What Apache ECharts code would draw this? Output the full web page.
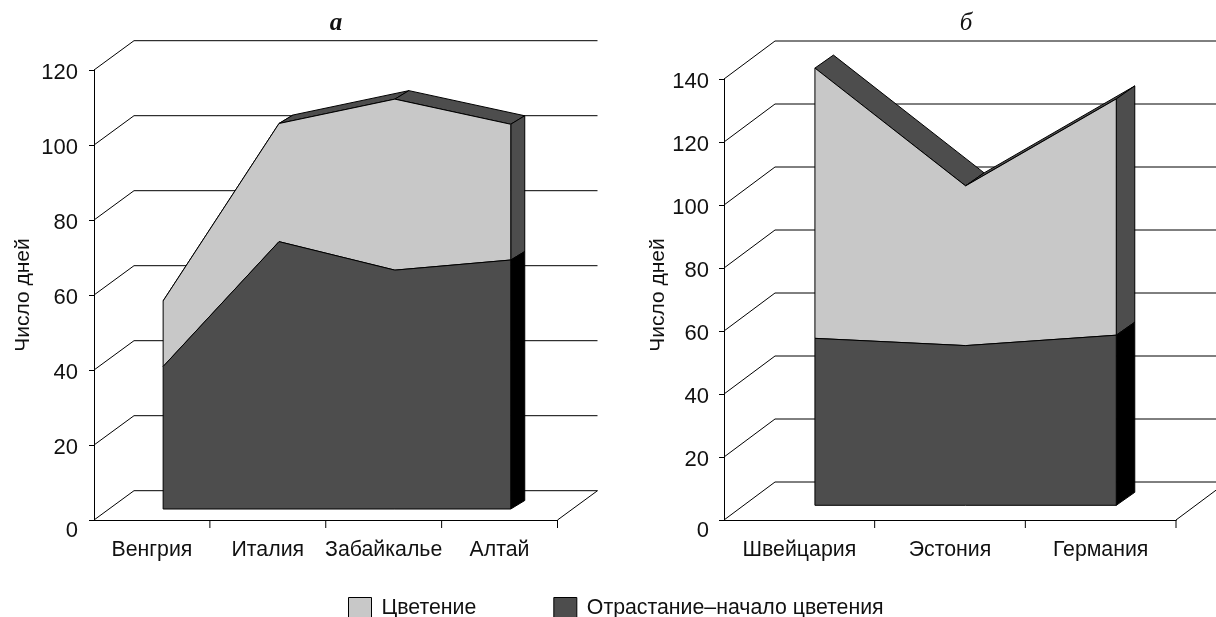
<!DOCTYPE html>
<html>
<head>
<meta charset="utf-8">
<style>html,body{margin:0;padding:0;background:#fff;overflow:hidden}#chart{width:1216px;height:617px}</style>
<script src="https://cdn.jsdelivr.net/npm/echarts@6/dist/echarts.min.js"></script>
</head>
<body>
<div id="chart"></div>
<script>
const categoriesA = ['Венгрия', 'Италия', 'Забайкалье', 'Алтай'];
const growthA = [38, 71.3, 63.7, 66.4];
const bloomA = [17.5, 31.5, 45.6, 36.2];
const ticksA = [0, 20, 40, 60, 80, 100, 120];

const categoriesB = ['Швейцария', 'Эстония', 'Германия'];
const growthB = [53, 50.7, 54];
const bloomB = [85.8, 50.7, 75];
const ticksB = [0, 20, 40, 60, 80, 100, 120, 140];

const BLOOM = 'Цветение';
const GROWTH = 'Отрастание–начало цветения';
const LIGHT = '#c8c8c8';
const DARK = '#4d4d4d';
const LINE = '#000';
const TEXT = '#111';
const FONT = '"Liberation Sans", Arial, sans-serif';

// wall: shift of the back wall, front: shift of the area face, depth: thickness of the area
const panels = [
  { wall: [40, -29.3], front: [11.2, -11], depth: [14, -8.5] },
  { wall: [51, -38], front: [15.6, -14.7], depth: [18.5, -13] },
];

const poly = (points, fill) => ({
  type: 'polygon',
  shape: { points },
  style: { fill, stroke: LINE, lineWidth: 1 },
});
const line = points => ({
  type: 'polyline',
  shape: { points },
  style: { fill: null, stroke: LINE, lineWidth: 1 },
});

// back wall, side wall and floor lines
function frameSeries(idx, ticks, categories) {
  const { wall } = panels[idx];
  return {
    type: 'custom',
    name: 'frame' + idx,
    xAxisIndex: idx,
    yAxisIndex: idx,
    clip: false,
    silent: true,
    data: ticks,
    renderItem(params, api) {
      const v = ticks[params.dataIndex];
      const band = api.size([1, 0])[0];
      const [x0, y] = api.coord([0, v]);
      const left = x0 - band / 2;
      const right = left + band * categories.length;
      const children = [line([[left, y], [left + wall[0], y + wall[1]], [right + wall[0], y + wall[1]]])];
      if (v === 0) {
        children.push(line([[right, y], [right + wall[0], y + wall[1]]]));
        categories.forEach((c, i) => {
          const x = left + band * (i + 1);
          children.push(line([[x, y], [x, y + 8]]));
        });
      }
      return { type: 'group', children };
    },
  };
}

// one layer of the area: lower and upper are value lists
function areaSeries(idx, name, lower, upper, faceColor, sideColor, withTop) {
  const { front, depth } = panels[idx];
  return {
    type: 'custom',
    name,
    xAxisIndex: idx,
    yAxisIndex: idx,
    clip: false,
    silent: true,
    itemStyle: { color: faceColor, borderColor: LINE, borderWidth: 1 },
    data: upper,
    renderItem(params, api) {
      if (params.dataIndex > 0) return null;
      const f = (i, v) => {
        const p = api.coord([i, v]);
        return [p[0] + front[0], p[1] + front[1]];
      };
      const b = p => [p[0] + depth[0], p[1] + depth[1]];
      const last = upper.length - 1;
      const children = [];
      if (withTop) {
        for (let i = 0; i < last; i++) {
          const p = f(i, upper[i]);
          const q = f(i + 1, upper[i + 1]);
          children.push(poly([p, q, b(q), b(p)], DARK));
        }
      }
      const sideTop = f(last, upper[last]);
      const sideBottom = f(last, lower[last]);
      children.push(poly([sideBottom, sideTop, b(sideTop), b(sideBottom)], sideColor));
      const face = upper.map((v, i) => f(i, v));
      for (let i = last; i >= 0; i--) face.push(f(i, lower[i]));
      children.push(poly(face, faceColor));
      return { type: 'group', children };
    },
  };
}

const zerosA = growthA.map(() => 0);
const zerosB = growthB.map(() => 0);
const topA = growthA.map((v, i) => v + bloomA[i]);
const topB = growthB.map((v, i) => v + bloomB[i]);

const xAxisOf = (gridIndex, data) => ({
  type: 'category',
  gridIndex,
  data,
  boundaryGap: true,
  axisLine: { show: true, lineStyle: { color: LINE, width: 1 } },
  axisTick: { show: false },
  axisLabel: { interval: 0, color: TEXT, fontFamily: FONT, fontSize: 21.3, margin: 20 },
});
const yAxisOf = (gridIndex, max, margin, nameGap, namePadding) => ({
  type: 'value',
  gridIndex,
  min: 0,
  max,
  interval: 20,
  name: 'Число дней',
  nameLocation: 'middle',
  nameGap,
  nameTextStyle: { color: TEXT, fontFamily: FONT, fontSize: 21, padding: namePadding },
  axisLine: { show: true, lineStyle: { color: LINE, width: 1 } },
  axisTick: { show: true, length: 5, lineStyle: { color: LINE, width: 1 } },
  axisLabel: {
    color: TEXT,
    fontFamily: FONT,
    fontSize: 22,
    margin,
    verticalAlignMinLabel: 'top',
    // the numbers sit a little under their ticks, except 0 which is already pushed down
    formatter: v => (v === 0 ? '0' : `{n|${v}}`),
    rich: { n: { color: TEXT, fontFamily: FONT, fontSize: 22, padding: [5, 0, 0, 0] } },
  },
  splitLine: { show: false },
});

const chart = echarts.init(document.getElementById('chart'), null, { renderer: 'canvas' });
chart.setOption({
  animation: false,
  backgroundColor: '#fff',
  title: [
    { text: 'а', left: 331, top: 6, textAlign: 'center', textStyle: { fontFamily: '"Liberation Serif", serif', fontStyle: 'italic', fontWeight: 'bold', fontSize: 25, color: TEXT } },
    { text: 'б', left: 961, top: 6, textAlign: 'center', textStyle: { fontFamily: '"Liberation Serif", serif', fontStyle: 'italic', fontWeight: 'normal', fontSize: 25, color: TEXT } },
  ],
  legend: {
    left: 348,
    top: 597,
    padding: 0,
    itemWidth: 23,
    itemHeight: 21,
    itemGap: 77,
    selectedMode: false,
    textStyle: { color: TEXT, fontFamily: FONT, fontSize: 21.3, padding: [0, 0, 0, 5] },
    data: [
      { name: BLOOM, icon: 'rect', itemStyle: { color: LIGHT, borderColor: LINE, borderWidth: 1 } },
      { name: GROWTH, icon: 'rect', itemStyle: { color: DARK, borderColor: LINE, borderWidth: 1 } },
    ],
  },
  grid: [
    { left: 94, top: 70, width: 463.5, height: 450, containLabel: false },
    { left: 724, top: 79, width: 452, height: 441, containLabel: false },
  ],
  xAxis: [xAxisOf(0, categoriesA), xAxisOf(1, categoriesB)],
  yAxis: [yAxisOf(0, 120, 16, 60, 0), yAxisOf(1, 140, 15, 55, [0, 0, 0, 9])],
  series: [
    frameSeries(0, ticksA, categoriesA),
    areaSeries(0, BLOOM, growthA, topA, LIGHT, DARK, true),
    areaSeries(0, GROWTH, zerosA, growthA, DARK, '#000', false),
    frameSeries(1, ticksB, categoriesB),
    areaSeries(1, BLOOM, growthB, topB, LIGHT, DARK, true),
    areaSeries(1, GROWTH, zerosB, growthB, DARK, '#000', false),
  ],
});
</script>
</body>
</html>
